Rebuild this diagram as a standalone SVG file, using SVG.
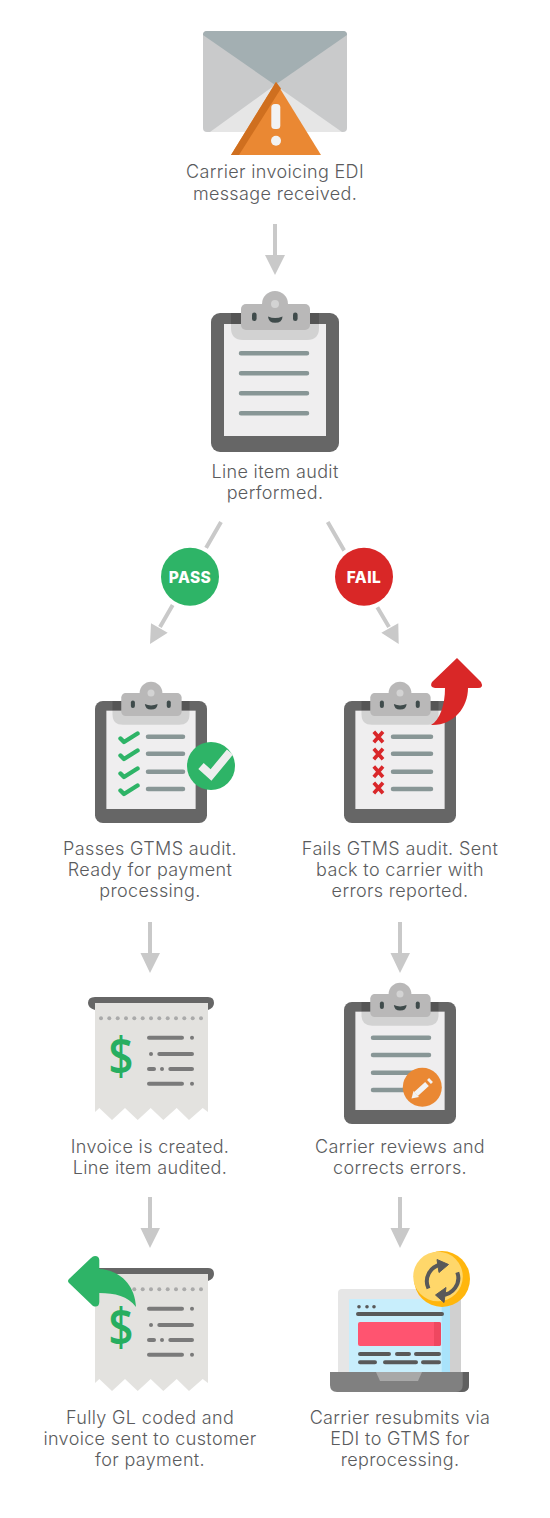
<svg xmlns="http://www.w3.org/2000/svg" width="550" height="1518" viewBox="0 0 550 1518">
<style>
.t{font-family:Inter,"Noto Sans","Liberation Sans",sans-serif;font-size:18px;letter-spacing:.35px;fill:#5a5b5d;text-anchor:middle;font-weight:300}
.b{font-family:Inter,"Liberation Sans",sans-serif;font-size:15.5px;letter-spacing:.4px;font-weight:800;fill:#fff;text-anchor:middle}
.d{font-family:"Open Sans","Liberation Sans",sans-serif;font-size:52px;font-weight:600;fill:#27ae60;text-anchor:middle}
.l{stroke:#889696;stroke-width:4.5;stroke-linecap:round;fill:none}
.r{stroke:#7a7a7a;stroke-width:4;stroke-linecap:round;fill:none}
.s{stroke:#595959;stroke-width:4;stroke-linecap:round;fill:none}
.c{stroke:#c9c9c9;stroke-width:4;fill:none}
.h{fill:#c9c9c9}
.k{stroke:#2eb467;stroke-width:4.4;stroke-linecap:round;stroke-linejoin:round;fill:none}
.x{stroke:#d9272a;stroke-width:3.6;fill:none}
</style>
<defs>
<g id="board">
<rect width="128" height="139" rx="9" fill="#666"/>
<rect x="13" y="11" width="102" height="112" fill="#efeeef"/>
<rect x="20" y="0" width="88" height="11" fill="#555"/>
<path d="M20 11H108V15Q108 27 96 27H32Q20 27 20 15Z" fill="#d2d2d2"/>
<circle cx="64" cy="-9" r="13" fill="#b9b8b8"/>
<rect x="30" y="-9" width="69" height="26" rx="5" fill="#b9b8b8"/>
<circle cx="64" cy="-9" r="4" fill="#d3d3d3"/>
<rect x="41" y="-0.5" width="4.6" height="8.5" rx="2.3" fill="#3f4b4b"/>
<rect x="82" y="-0.5" width="4.6" height="8.5" rx="2.3" fill="#3f4b4b"/>
<path d="M57 3.500Q64 6.500 71.500 3.500Q71.500 9.800 64 9.800Q57.500 9.800 57 3.500Z" fill="#3f4b4b"/>
</g>
<g id="receipt">
<path d="M95 1003H208V1112L202.700 1108L189 1120L176.700 1108L163.300 1120L150.700 1108L137.700 1120L125 1108L112 1120L99.300 1108L95 1112Z" fill="#e3e2df"/>
<path d="M95 1010Q88 1008 88 1003Q88 997 95 997H208Q214 997 214 1003Q214 1008 208 1010V1003H95Z" fill="#666"/>
<g fill="#aaa"><circle cx="101" cy="1018.300" r="2"/><circle cx="109.300" cy="1018.300" r="2"/><circle cx="117.700" cy="1018.300" r="2"/><circle cx="126" cy="1018.300" r="2"/><circle cx="134.300" cy="1018.300" r="2"/><circle cx="142.700" cy="1018.300" r="2"/><circle cx="151" cy="1018.300" r="2"/><circle cx="159.300" cy="1018.300" r="2"/><circle cx="167.700" cy="1018.300" r="2"/><circle cx="176" cy="1018.300" r="2"/><circle cx="184.300" cy="1018.300" r="2"/><circle cx="192.700" cy="1018.300" r="2"/><circle cx="201" cy="1018.300" r="2"/></g>
<path class="r" d="M149 1037.700H182M192 1037.700h.01M151 1054h.01M159.300 1054H192M149 1069H154M162 1069h.01M170.300 1069H192M149 1083.700H182M192 1083.700h.01"/>
<text class="d" transform="translate(121 1075) scale(.84 1)">$</text>
</g>
</defs>
<g id="connectors">
<path class="c" d="M275 224V257M221 522L206 548M172.700 605L160 627M327.700 522L344.300 550.700M377.300 607.300L389 627M150 922V955M400 922V955M150 1197V1230M400 1197V1230"/>
<path class="h" d="M265 255H285L275 275ZM151 623.300L167.700 632.700L150 644ZM398.300 623.300L381.300 632.700L398.700 644ZM140.500 953H160L150 973ZM390.500 953H410L400 973ZM140.500 1228H160L150 1248ZM390.500 1228H410L400 1248Z"/>
</g>
<g id="n-received">
<rect x="203" y="31" width="144" height="101" rx="4" fill="#c9cacb"/>
<path d="M210 132L275 85L342 132Z" fill="#e6e6e6"/>
<path d="M203 35Q203 31 207 31H343Q347 31 347 35L275 85Z" fill="#a3afb2"/>
<path d="M276 82L321 155H231Z" fill="#ea8833"/>
<path d="M276 82L281 88.500L239 155H231Z" fill="#cf6f1f"/>
<rect x="271.300" y="104" width="9" height="25" rx="3.500" fill="#f2f2f2"/>
<circle cx="276" cy="140.700" r="5" fill="#f2f2f2"/>
<text class="t" x="275" y="178">Carrier invoicing EDI</text>
<text class="t" x="275" y="200">message received.</text>
</g>
<g id="n-audit">
<use href="#board" x="211" y="313"/>
<path class="l" d="M241 353.300H307M241 373.300H307M241 393.300H307M241 413.300H307" stroke-width="5"/>
<text class="t" x="275" y="478">Line item audit</text>
<text class="t" x="275" y="499">performed.</text>
</g>
<g id="n-pass">
<circle cx="190" cy="576.700" r="33" fill="#fff"/>
<circle cx="190" cy="576.700" r="29" fill="#2eb467"/>
<text class="b" x="190" y="582.500">PASS</text>
</g>
<g id="n-fail">
<circle cx="364" cy="576.700" r="33" fill="#fff"/>
<circle cx="364" cy="576.700" r="29" fill="#d92727"/>
<text class="b" x="364" y="582.500">FAIL</text>
</g>
<g id="n-passes">
<use href="#board" transform="translate(95 701) scale(.875 .878)"/>
<path class="l" d="M148 736.700H183M148 753.700H183M148 771.700H183M148 789H183"/>
<path class="k" d="M120.500 738.500L124 742L137.500 733.500M120.500 755.500L124 759L137.500 750.500M120.500 773.500L124 777L137.500 768.500M120.500 790.500L124 794L137.500 785.500"/>
<circle cx="211" cy="766" r="24" fill="#2eb467"/>
<path d="M201 766L211 775L230 752" stroke="#eeeeee" stroke-width="8" fill="none"/>
<text class="t" x="150" y="855">Passes GTMS audit.</text>
<text class="t" x="150" y="876">Ready for payment</text>
<text class="t" x="150" y="897">processing.</text>
</g>
<g id="n-fails">
<use href="#board" transform="translate(344 701) scale(.875 .878)"/>
<path class="l" d="M393 736.700H431M393 753.700H431M393 771.700H431M393 789H431"/>
<path class="x" d="M373.800 731.700L383 742.300M383 731.700L373.800 742.300M373.800 748.700L383 759.300M383 748.700L373.800 759.300M373.800 766.500L383 777M383 766.500L373.800 777M373.800 782.700L383 793.300M383 782.700L373.800 793.300"/>
<path d="M457 658L481 682Q484 688 478 688H468C468 708 453 726 431 725C440 720 445 705 445 688H435Q429 687 432 682Z" fill="#d92727"/>
<text class="t" x="400" y="855">Fails GTMS audit. Sent</text>
<text class="t" x="400" y="876">back to carrier with</text>
<text class="t" x="400" y="897">errors reported.</text>
</g>
<g id="n-invoice">
<use href="#receipt"/>
<text class="t" x="150" y="1153">Invoice is created.</text>
<text class="t" x="150" y="1174">Line item audited.</text>
</g>
<g id="n-corrects">
<use href="#board" transform="translate(344 1002) scale(.875 .878)"/>
<path class="l" d="M373 1037.700H429M373 1055H429M373 1072.700H429M373 1090H429"/>
<circle cx="422.300" cy="1087.300" r="19.500" fill="#ea8833"/>
<path d="M416 1094L427 1084M429 1082L431 1080" stroke="#f2f2f2" stroke-width="5.500" fill="none"/>
<path d="M411.500 1098.500L413.500 1091L419 1097Z" fill="#f2f2f2"/>
<text class="t" x="400" y="1153">Carrier reviews and</text>
<text class="t" x="400" y="1174">corrects errors.</text>
</g>
<g id="n-coded">
<use href="#receipt" y="271"/>
<path d="M95 1256Q99 1256 99.300 1260V1269C120 1270 135 1285 136 1307C128 1296 115 1293 99.300 1293V1302Q99 1308 93 1306L69 1283Q67 1281 69 1279L91 1258Q93 1256 95 1256Z" fill="#2eb467"/>
<text class="t" x="150" y="1424">Fully GL coded and</text>
<text class="t" x="150" y="1445">invoice sent to customer</text>
<text class="t" x="150" y="1466">for payment.</text>
</g>
<g id="n-resubmits">
<rect x="338" y="1289" width="123" height="90" rx="4" fill="#e6e6e6"/>
<path d="M450 1289H457Q461 1289 461 1293V1375H450Z" fill="#d0d0d0"/>
<rect x="349" y="1299" width="101" height="75" fill="#c8eefc"/>
<rect x="441.700" y="1299" width="8.300" height="75" fill="#a9e3fb"/>
<g fill="#595959"><circle cx="359" cy="1306.700" r="1.800"/><circle cx="367" cy="1306.700" r="1.800"/><circle cx="374" cy="1306.700" r="1.800"/></g>
<rect x="358" y="1322" width="83" height="24" rx="2" fill="#ff5470"/>
<path d="M434 1322H439Q441 1322 441 1324V1344Q441 1346 439 1346H434Z" fill="#ef4760"/>
<path class="s" d="M358 1314H442M360 1354H389M397 1354H409M416 1354H439M360 1362.300H375M385 1362.300H416M423 1362.300H439"/>
<path d="M330 1372H469V1385Q469 1392 462 1392H337Q330 1392 330 1385Z" fill="#808080"/>
<path d="M462.700 1372H469V1385Q469 1392 462 1392H456Q462.700 1392 462.700 1385Z" fill="#606060"/>
<path d="M376 1372H422L418 1381H380Z" fill="#a8a8a8"/>
<circle cx="442" cy="1279" r="28" fill="#ffb60d"/>
<circle cx="438" cy="1276.500" r="24.800" fill="#ffd76a"/>
<path d="M428.500 1288.500A17 17 0 0 1 441 1264.500M457.300 1272.300A17 17 0 0 1 441 1295" stroke="#595959" stroke-width="4" fill="none"/>
<path d="M437 1259.500L448.500 1264.500L439 1272.500ZM446 1287.500L435.500 1295L444 1302.500Z" fill="#595959" stroke="#595959" stroke-width="1" stroke-linejoin="round"/>
<text class="t" x="400" y="1424">Carrier resubmits via</text>
<text class="t" x="400" y="1445">EDI to GTMS for</text>
<text class="t" x="400" y="1466">reprocessing.</text>
</g>
</svg>
